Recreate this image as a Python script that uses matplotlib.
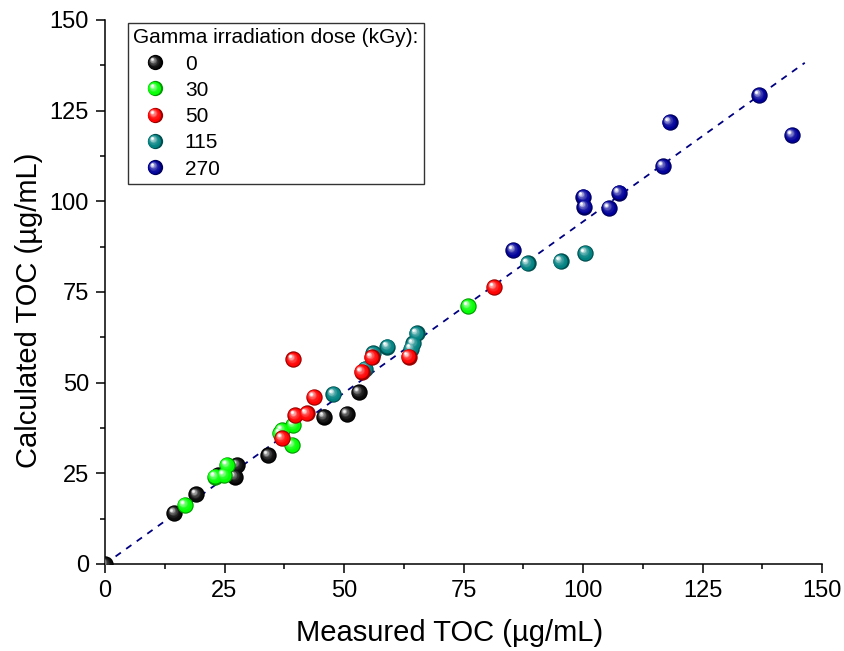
import numpy as np
import matplotlib
matplotlib.use("Agg")
import matplotlib.pyplot as plt
from matplotlib.lines import Line2D
from matplotlib.legend_handler import HandlerBase
from matplotlib.ticker import MultipleLocator
from matplotlib.transforms import offset_copy
import matplotlib.colors as mcolors

plt.rcParams['font.family'] = ['Liberation Sans', 'DejaVu Sans']

# ---- data ----
dose_labels = ["0", "30", "50", "115", "270"]

x0 = [0, 14.5, 19.1, 23.6, 27.6, 27.2, 34.2, 45.8, 50.6, 53.1]
y0 = [0, 14.1, 19.2, 24.5, 27.3, 24.1, 30.0, 40.6, 41.4, 47.4]

x30 = [16.7, 23.0, 24.9, 25.5, 36.6, 37.0, 39.4, 39.1, 76.0]
y30 = [16.3, 24.1, 24.5, 27.3, 36.0, 36.9, 38.3, 32.8, 71.1]

x50 = [37.0, 39.8, 42.2, 43.7, 39.4, 53.7, 55.8, 63.5, 81.4]
y50 = [34.7, 41.0, 41.5, 46.1, 56.4, 53.0, 57.0, 57.2, 76.3]

x115 = [47.8, 54.4, 56.1, 59.1, 64.0, 64.5, 65.2, 88.4, 95.3, 100.5]
y115 = [46.9, 53.9, 58.1, 59.9, 59.4, 60.8, 63.6, 82.9, 83.5, 85.8]

x270 = [85.4, 100.1, 100.3, 105.4, 107.5, 116.7, 118.1, 136.9, 143.7]
y270 = [86.6, 101.3, 98.5, 98.2, 102.4, 109.7, 121.9, 129.3, 118.3]

fit_slope = 0.944
fit_x = [0, 146.4]

colors = {"0": "#000000", "30": "#00ff00", "50": "#ff0000",
          "115": "#008080", "270": "#000099"}
series = {"0": (x0, y0), "30": (x30, y30), "50": (x50, y50),
          "115": (x115, y115), "270": (x270, y270)}
draw_order = ["0", "115", "30", "50", "270"]

D = 11.8  # marker diameter in points


def sphere_layers(color, d):
    base = np.array(mcolors.to_rgb(color))
    white = np.array([1.0, 1.0, 1.0])
    n = 12
    layers = [(d, tuple(base * 0.6), 0.0, 0.0)]
    for i in range(1, n):
        t = i / (n - 1)
        diam = d * (0.93 - 0.78 * t)
        mix = t ** 2.4
        if color == "#000000":
            col = (1 - mix) * np.array([0.04, 0.04, 0.04]) + mix * white * 0.95
        else:
            col = (1 - mix) * base + mix * white
        col = np.clip(col, 0, 1)
        off = 0.2 * d * t
        layers.append((diam, tuple(col), -off, off))
    return layers


fig = plt.figure(figsize=(8.44, 6.51), dpi=100)
ax = fig.add_axes([105 / 844, 87 / 651, 717 / 844, 544 / 651])

# fit line
fx = np.array(fit_x)
ax.plot(fx, fit_slope * fx, color="#000080", lw=1.3,
        linestyle=(0, (3.6, 3.6)), zorder=2)

for gi, key in enumerate(draw_order):
    xs, ys = series[key]
    for li, (diam, col, dx, dy) in enumerate(sphere_layers(colors[key], D)):
        tr = offset_copy(ax.transData, fig=fig, x=dx, y=dy, units='points')
        ax.scatter(xs, ys, s=diam ** 2, color=[col], linewidths=0,
                   transform=tr, zorder=10 + gi * 20 + li)

ax.set_xlim(0, 150)
ax.set_ylim(0, 150)
ax.xaxis.set_major_locator(MultipleLocator(25))
ax.yaxis.set_major_locator(MultipleLocator(25))
ax.xaxis.set_minor_locator(MultipleLocator(12.5))
ax.yaxis.set_minor_locator(MultipleLocator(12.5))
ax.tick_params(which='major', direction='out', length=6.5, width=1.1,
               labelsize=17, pad=5)
ax.tick_params(which='minor', direction='out', length=3.5, width=1.1)
for s in ['top', 'right']:
    ax.spines[s].set_visible(False)
for s in ['left', 'bottom']:
    ax.spines[s].set_linewidth(1.1)

ax.set_xlabel("Measured TOC (µg/mL)", fontsize=21, labelpad=12)
ax.set_ylabel("Calculated TOC (µg/mL)", fontsize=21, labelpad=5)
ax.xaxis.label.set_x(0.4805)
ax.yaxis.label.set_y(0.466)


class SphereHandler(HandlerBase):
    def __init__(self, color, d):
        super().__init__()
        self.color = color
        self.d = d

    def create_artists(self, legend, orig_handle, xdescent, ydescent,
                       width, height, fontsize, trans):
        cx = width / 2 - xdescent
        cy = height / 2 - ydescent
        arts = []
        for (diam, col, dx, dy) in sphere_layers(self.color, self.d):
            l = Line2D([cx + dx], [cy + dy], marker='o', markersize=diam,
                       markerfacecolor=col, markeredgewidth=0,
                       linestyle='none', transform=trans)
            arts.append(l)
        return arts


handles = [Line2D([], [], linestyle='none') for _ in dose_labels]
hmap = {h: SphereHandler(colors[k], 11.0) for h, k in zip(handles, dose_labels)}
leg = ax.legend(handles, dose_labels, handler_map=hmap,
                title="Gamma irradiation dose (kGy):",
                loc='upper left', bbox_to_anchor=(128 / 844, 1 - 23 / 651),
                bbox_transform=fig.transFigure, borderaxespad=0,
                fontsize=15, title_fontsize=15, frameon=True, fancybox=False,
                edgecolor='black', borderpad=0.25, handlelength=2.07,
                handletextpad=0.41, labelspacing=0.35, alignment='left')
leg.get_frame().set_linewidth(1.0)
leg.set_zorder(200)

fig.savefig("out.png", dpi=100)
